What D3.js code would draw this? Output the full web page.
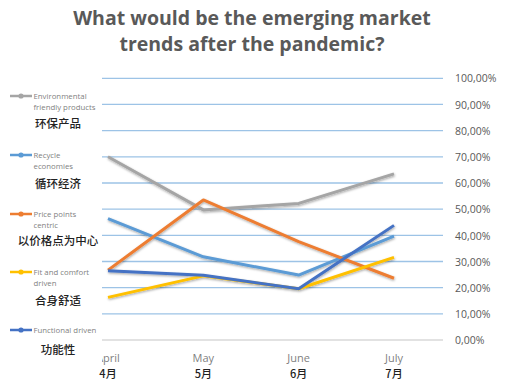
<!DOCTYPE html>
<html><head><meta charset="utf-8">
<script src="https://cdn.jsdelivr.net/npm/d3@7"></script>
<style>body{margin:0;background:#fff}svg{display:block}</style>
</head><body><svg id="c" width="522" height="388"></svg>
<script>
const months = ["April","May","June","July"];
const monthsCn = ["4月","5月","6月","7月"];
const seriesNames = ["Environmental friendly products","Recycle economies","Price points centric","Fit and comfort driven","Functional driven"];
const seriesLines = [["Environmental","friendly products"],["Recycle","economies"],["Price points","centric"],["Fit and comfort","driven"],["Functional driven"]];
const seriesCn = ["环保产品","循环经济","以价格点为中心","合身舒适","功能性"];
const colors = ["#A5A5A5","#5B9BD5","#ED7D31","#FFC000","#4472C4"];
const environmental = [0.70,0.497,0.522,0.635];
const recycle = [0.464,0.318,0.248,0.397];
const pricePoints = [0.267,0.535,0.376,0.236];
const fitComfort = [0.163,0.245,0.196,0.316];
const functional = [0.265,0.247,0.196,0.438];
const values = [environmental,recycle,pricePoints,fitComfort,functional];
const yTicks = [0,0.1,0.2,0.3,0.4,0.5,0.6,0.7,0.8,0.9,1.0];

const svg = d3.select("#c");
const plotL = 102, plotR = 443, plotT = 78.3, plotB = 340;
const x = d3.scalePoint().domain(months).range([108, 394]);
const y = d3.scaleLinear().domain([0,1]).range([plotB, plotT]);

const defs = svg.append("defs");
const f = defs.append("filter").attr("id","sh").attr("x","-10%").attr("y","-10%").attr("width","120%").attr("height","130%");
f.append("feDropShadow").attr("dx",0.5).attr("dy",1.2).attr("stdDeviation",1).attr("flood-color","#000").attr("flood-opacity",0.35);
defs.append("clipPath").attr("id","clipX").append("rect").attr("x",plotL).attr("y",340).attr("width",400).attr("height",48);

// title
svg.append("text").attr("x",252).attr("y",25).attr("text-anchor","middle")
  .attr("font-family","Open Sans, sans-serif").attr("font-weight","bold").attr("font-size",19.5).attr("fill","#595959")
  .text("What would be the emerging market");
svg.append("text").attr("x",252).attr("y",51).attr("text-anchor","middle")
  .attr("font-family","Open Sans, sans-serif").attr("font-weight","bold").attr("font-size",19.5).attr("fill","#595959")
  .text("trends after the pandemic?");

// gridlines
svg.append("g").selectAll("line").data(yTicks).join("line")
  .attr("x1",plotL).attr("x2",plotR).attr("y1",d=>y(d)).attr("y2",d=>y(d))
  .attr("stroke",d=>d===0?"#D9D9D9":"#9DC3E6").attr("stroke-width",1.3);

// right axis labels
const axis = d3.axisRight(y).tickValues(yTicks).tickSize(0).tickPadding(0)
  .tickFormat(d=>d3.format(".2f")(d*100).replace(".",",")+"%");
const ag = svg.append("g").attr("transform",`translate(455,0)`).call(axis);
ag.select(".domain").remove();
ag.selectAll("text").attr("font-family","Open Sans, sans-serif").attr("font-size",10.5).attr("fill","#595959").attr("dy","0.35em");

// x labels
const xg = svg.append("g").attr("clip-path","url(#clipX)");
xg.selectAll("text.m").data(months).join("text").attr("class","m")
  .attr("x",d=>x(d)).attr("y",362).attr("text-anchor","middle")
  .attr("font-family","Open Sans, sans-serif").attr("font-size",11).attr("fill","#7F7F7F").text(d=>d);
svg.append("g").selectAll("text").data(monthsCn).join("text")
  .attr("x",(d,i)=>x(months[i])).attr("y",378).attr("text-anchor","middle")
  .attr("font-family","Noto Sans CJK SC, sans-serif").attr("font-size",11).attr("font-weight","500").attr("fill","#222").text(d=>d);

// lines
const line = d3.line().x((d,i)=>x(months[i])).y(d=>y(d));
svg.append("g").attr("filter","url(#sh)").selectAll("path").data(values).join("path")
  .attr("d",d=>line(d)).attr("fill","none").attr("stroke",(d,i)=>colors[i])
  .attr("stroke-width",3).attr("stroke-linejoin","round");

// legend
const legY = [96,155,214,272,330];
const cnY = [128,188,245,305,354];
const lg = svg.append("g");
seriesNames.forEach((n,i)=>{
  const g = lg.append("g");
  g.append("line").attr("x1",10).attr("x2",32).attr("y1",legY[i]).attr("y2",legY[i]).attr("stroke",colors[i]).attr("stroke-width",2.5);
  g.append("circle").attr("cx",21).attr("cy",legY[i]).attr("r",2.6).attr("fill",colors[i]);
  seriesLines[i].forEach((t,j)=>{
    g.append("text").attr("x",33.5).attr("y",legY[i]+2.8+j*11).attr("font-family","Open Sans, sans-serif")
      .attr("font-size",7.8).attr("fill","#7F7F7F").text(t);
  });
  g.append("text").attr("x",58).attr("y",cnY[i]).attr("text-anchor","middle")
    .attr("font-family","Noto Sans CJK SC, sans-serif").attr("font-size",11.5).attr("font-weight","500").attr("fill","#222").text(seriesCn[i]);
});
</script></body></html>
